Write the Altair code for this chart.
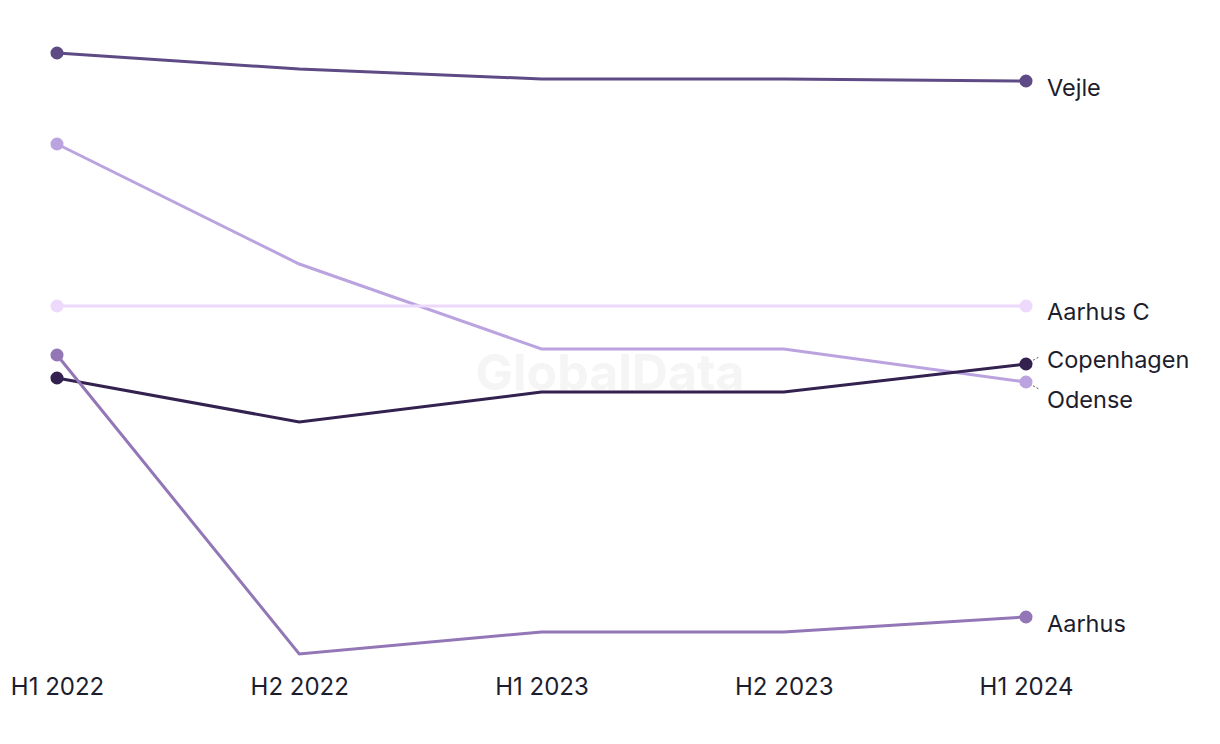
import altair as alt
import pandas as pd

periods = ["H1 2022", "H2 2022", "H1 2023", "H2 2023", "H1 2024"]
series_names = ["Vejle", "Odense", "Aarhus C", "Copenhagen", "Aarhus"]
vejle = [64.7, 63.1, 62.1, 62.1, 61.9]
odense = [55.6, 43.6, 35.1, 35.1, 31.8]
aarhus_c = [39.4, 39.4, 39.4, 39.4, 39.4]
copenhagen = [32.2, 27.8, 30.8, 30.8, 33.6]
aarhus = [34.5, 4.6, 6.8, 6.8, 8.3]
colors = ["#5e4a85", "#bba3e0", "#ecd9fb", "#33214f", "#9276b6"]
# label nudges (px) for collided end labels
label_dy = [8, 19, 7, -3, 8]

all_vals = [vejle, odense, aarhus_c, copenhagen, aarhus]
rows = []
for name, vals in zip(series_names, all_vals):
    for p, v in zip(periods, vals):
        rows.append({"series": name, "period": p, "value": v})
df = pd.DataFrame(rows)
last = df[df["period"] == periods[-1]]
ends = df[df["period"].isin([periods[0], periods[-1]])]

ymin = min(min(v) for v in all_vals)
ymax = max(max(v) for v in all_vals)

W, H = 969, 601
x = alt.X("period:N", sort=periods, scale=alt.Scale(type="point", padding=0),
          axis=alt.Axis(title=None, domain=False, ticks=False, tickSize=0, grid=False,
                        labelAngle=0, labelFontSize=24, labelColor="#1d1d2d",
                        labelFont="Inter", labelPadding=21))
y = alt.Y("value:Q", scale=alt.Scale(domain=[ymin, ymax], nice=False, zero=False), axis=None)
color = alt.Color("series:N", scale=alt.Scale(domain=series_names, range=colors), legend=None)

watermark = alt.Chart(pd.DataFrame({"t": ["GlobalData"]})).mark_text(
    font="Inter", fontSize=50, fontWeight="bold", color="#f5f5f5"
).encode(text="t:N", x=alt.value(553), y=alt.value(H / 2 + 21))

lines = alt.Chart(df).mark_line(strokeWidth=3).encode(x=x, y=y, color=color, detail="series:N")
points = alt.Chart(ends).mark_circle(size=170, opacity=1).encode(x=x, y=y, color=color)

labels = []
for name, dy in zip(series_names, label_dy):
    labels.append(
        alt.Chart(last[last["series"] == name]).mark_text(
            align="left", baseline="middle", dx=21, dy=dy, fontSize=23.5,
            font="Inter", color="#1d1d2d"
        ).encode(x=x, y=y, text="series:N")
    )

conn = pd.DataFrame({
    "period": [periods[-1], periods[-1]],
    "value": [copenhagen[-1], odense[-1]],
    "series": ["Copenhagen", "Odense"],
})
connectors = alt.Chart(conn).mark_rule(strokeDash=[2, 2], strokeWidth=1, color="#555555").encode(
    x=x, y=y,
    x2=alt.value(W + 13),
    y2=alt.Y2("v2:Q"),
).transform_calculate(v2="datum.series == 'Copenhagen' ? datum.value + 0.7 : datum.value - 0.7")

chart = alt.layer(watermark, lines, connectors, points, *labels).properties(
    width=W, height=H,
    autosize=alt.AutoSizeParams(type="none"),
    padding={"left": 49, "top": 45, "right": 186, "bottom": 80},
    view=alt.ViewBackground(stroke="transparent"),
).configure_view(stroke="transparent", strokeWidth=0).configure(background="white")

chart.save("out.html", embed_options={"renderer": "svg", "actions": False})
